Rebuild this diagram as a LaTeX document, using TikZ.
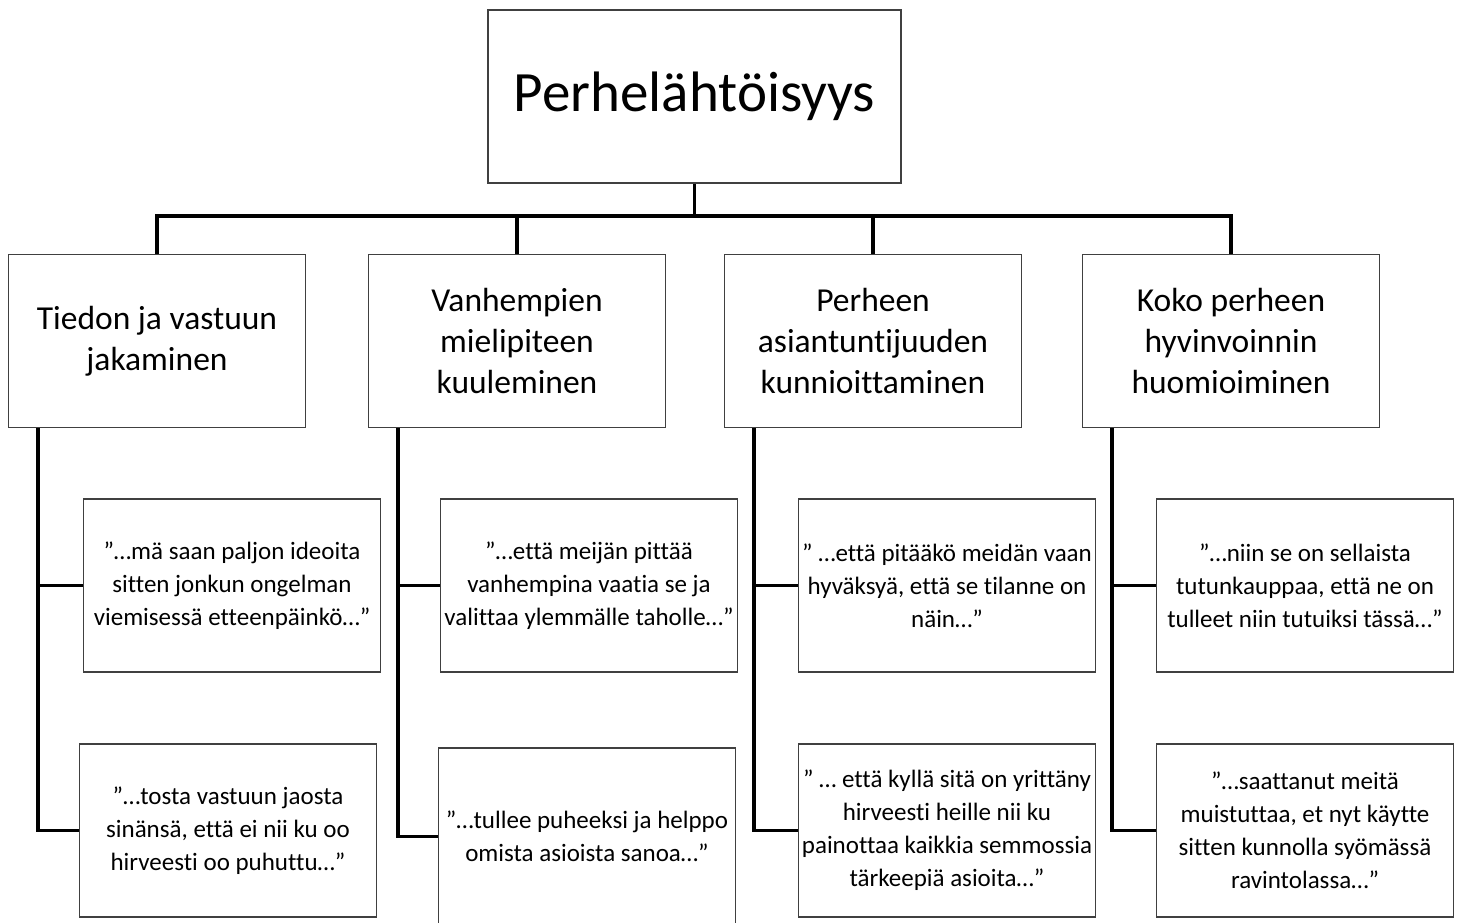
\documentclass[tikz,border=0pt]{standalone}
\usepackage{fontspec}
\setmainfont{Carlito}[Ligatures={NoCommon}]
\usepackage{tikz}

\tikzset{
    box/.style={draw=black!75, line width=1.5pt, fill=white, align=center,
        inner sep=0pt, minimum width=297pt, minimum height=173pt},
    rootbox/.style={box, minimum width=413pt, font=\fontsize{57}{66}\selectfont},
    catbox/.style={box, font=\fontsize{33.5}{41}\selectfont},
    quotebox/.style={box, font=\fontsize{25}{33}\selectfont},
    conn/.style={line width=3.5pt, black}
}

\begin{document}
\begin{tikzpicture}[x=1pt, y=-1pt]

            \useasboundingbox (0,0) rectangle (1461,922);

            % juuri
            \node[rootbox] (top) at (694.5,96.5) {Perhelähtöisyys};

            % teemat
            \node[catbox] (c1) at (157,341) {Tiedon ja vastuun\\jakaminen};
            \node[catbox] (c2) at (517,341) {Vanhempien\\mielipiteen\\kuuleminen};
            \node[catbox] (c3) at (873,341) {Perheen\\asiantuntijuuden\\kunnioittaminen};
            \node[catbox] (c4) at (1231,341) {Koko perheen\\hyvinvoinnin\\huomioiminen};

            % sitaatit
            \node[quotebox] (q1a) at (232,585.5) {”…mä saan paljon ideoita\\sitten jonkun ongelman\\viemisessä etteenpäinkö…”};
            \node[quotebox] (q1b) at (228,830.5) {”…tosta vastuun jaosta\\sinänsä, että ei nii ku oo\\hirveesti oo puhuttu…”};
            \node[quotebox] (q2a) at (589,585.5) {”…että meijän pittää\\vanhempina vaatia se ja\\valittaa ylemmälle taholle…”};
            \node[quotebox, minimum height=177pt] (q2b) at (587,836.5) {”…tullee puheeksi ja helppo\\omista asioista sanoa…”};
            \node[quotebox] (q3a) at (947,585.5) {” …että pitääkö meidän vaan\\hyväksyä, että se tilanne on\\näin…”};
            \node[quotebox] (q3b) at (947,830.5) {” … että kyllä sitä on yrittäny\\hirveesti heille nii ku\\painottaa kaikkia semmossia\\tärkeepiä asioita…”};
            \node[quotebox] (q4a) at (1305,585.5) {”…niin se on sellaista\\tutunkauppaa, että ne on\\tulleet niin tutuiksi tässä…”};
            \node[quotebox] (q4b) at (1305,830.5) {”…saattanut meitä\\muistuttaa, et nyt käytte\\sitten kunnolla syömässä\\ravintolassa…”};

            % puurakenne
            \coordinate (bar) at (0,216);
            \draw[conn] (top.south) -- (top.south |- bar);
            \draw[conn] (c1.north) -- (c1.north |- bar) -- (c4.north |- bar) -- (c4.north);
            \foreach \i in {2,3} {
                    \draw[conn] (c\i.north) -- (c\i.north |- bar);
                }

            \foreach \i in {1,2,3,4} {
                    \coordinate (t\i) at ([xshift=30pt]c\i.south west);
                    \draw[conn] (t\i) |- (q\i b.west);
                    \draw[conn] (t\i |- q\i a.west) -- (q\i a.west);
                }

        \end{tikzpicture}
\end{document}
